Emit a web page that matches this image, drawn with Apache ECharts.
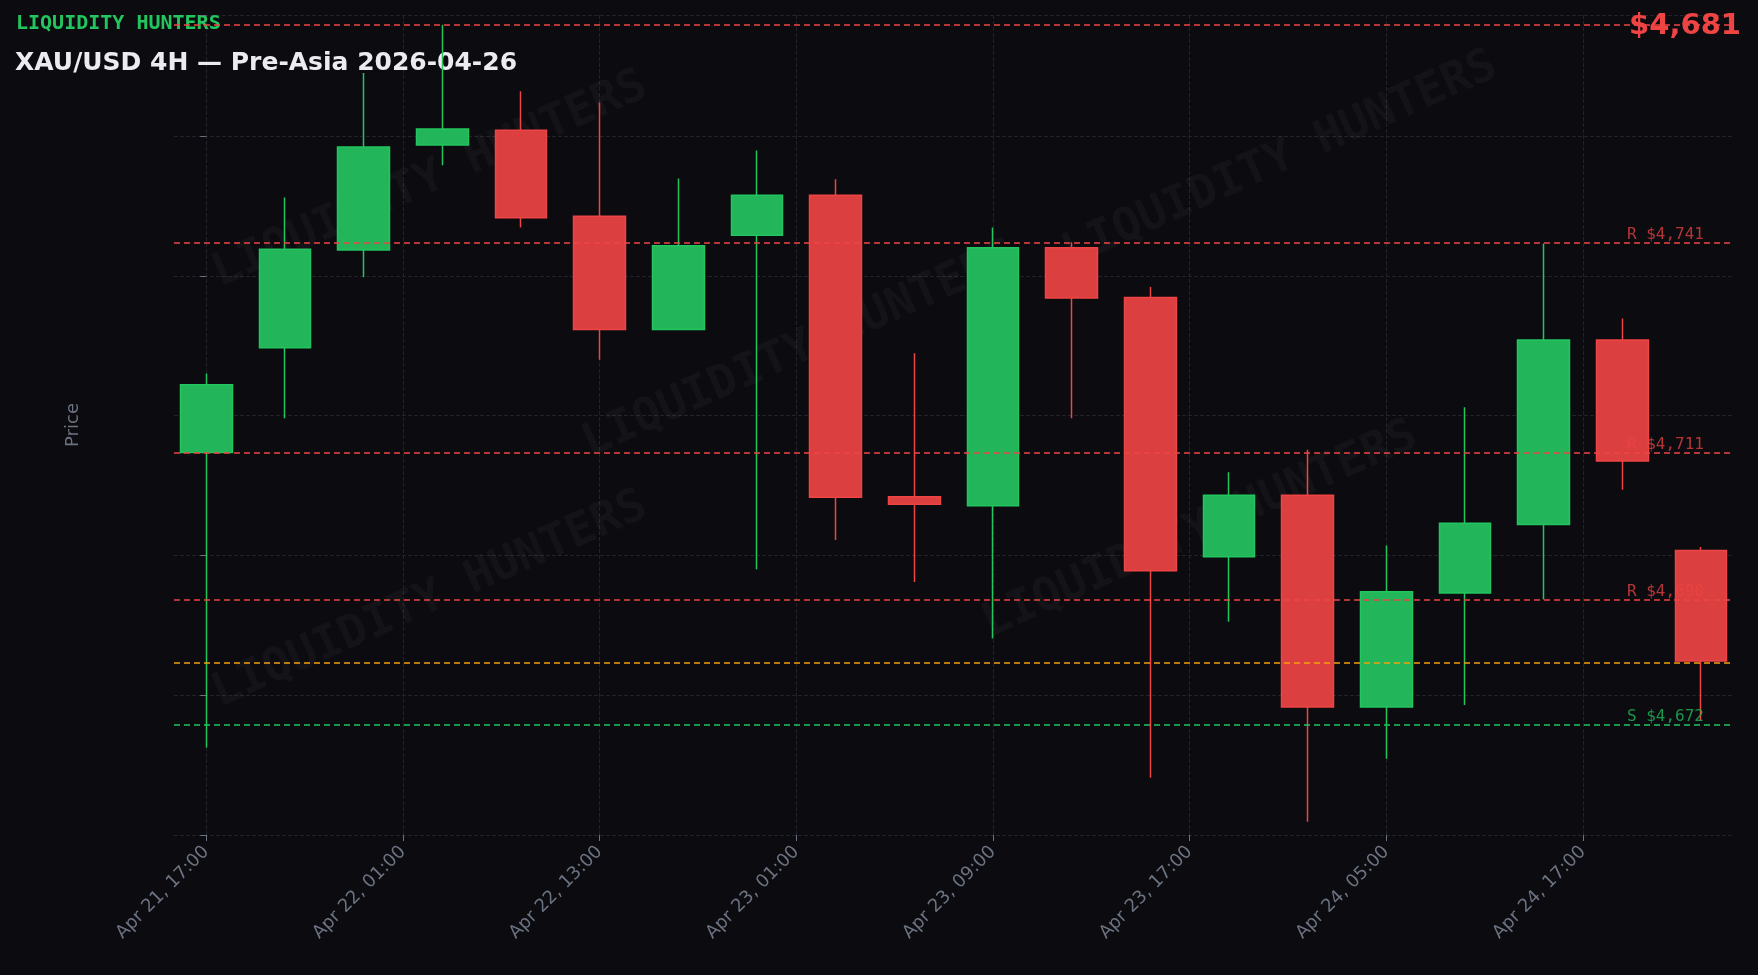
<!DOCTYPE html>
<html><head><meta charset="utf-8">
<script src="https://cdn.jsdelivr.net/npm/echarts@6/dist/echarts.min.js"></script>
<style>html,body{margin:0;padding:0;background:#0b0b10}#c{width:1758px;height:975px}</style>
</head><body><div id="c"></div>
<script>
const xLabels = ['Apr 21, 17:00','Apr 22, 01:00','Apr 22, 13:00','Apr 23, 01:00','Apr 23, 09:00','Apr 23, 17:00','Apr 24, 05:00','Apr 24, 17:00'];
const xLabelPos = [0,2.5,5,7.5,10,12.5,15,17.5];
const opens  = [4711,4726,4740,4755,4757.1,4744.8,4728.6,4742.1,4747.8,4704.7,4703.4,4740.3,4733.2,4696.1,4704.9,4674.6,4690.9,4700.7,4727.1,4697.0];
const closes = [4720.7,4740.1,4754.7,4757.3,4744.6,4728.6,4740.6,4747.8,4704.6,4703.6,4740.3,4733.1,4694.1,4704.9,4674.6,4691.1,4700.9,4727.1,4709.8,4681.2];
const lows   = [4668.8,4715.9,4736.1,4752.1,4743.2,4724.3,4728.6,4694.3,4698.5,4692.5,4684.4,4715.9,4664.5,4686.8,4658.2,4667.2,4674.9,4690,4705.7,4672.7];
const highs  = [4722.3,4747.5,4765.3,4772.2,4762.7,4761.1,4750.2,4754.2,4750.1,4725.2,4743.2,4741.1,4734.7,4708.2,4711.4,4697.7,4717.5,4740.9,4730.2,4697.5];
const levels = [
  {v:4772.2, label:'', color:'#ef4444'},
  {v:4741, label:'R $4,741', color:'#ef4444'},
  {v:4711, label:'R $4,711', color:'#ef4444'},
  {v:4690, label:'R $4,690', color:'#ef4444'},
  {v:4681, label:'', color:'#f59e0b'},
  {v:4672, label:'S $4,672', color:'#22c55e'}
];
const lastPrice = '$4,681';

const data = opens.map((o,i)=>[i,o,closes[i],lows[i],highs[i]]);
const chart = echarts.init(document.getElementById('c'));
const font = 'DejaVu Sans';
chart.setOption({
  backgroundColor:'#0b0b10',
  animation:false,
  grid:{left:174,right:24,top:15,bottom:140},
  xAxis:{type:'value',min:-0.41,max:19.42,
    axisLine:{show:false},
    axisTick:{show:true,customValues:xLabelPos,length:6,lineStyle:{color:'#6b7280'}},
    axisLabel:{customValues:xLabelPos,rotate:45,color:'#6b7280',fontSize:18,fontFamily:font,margin:14,
      formatter:v=>{const k=xLabelPos.indexOf(v);return k>=0?xLabels[k]:'';}},
    splitLine:{show:true,lineStyle:{color:'#23232b',type:'dashed'}}
  },
  yAxis:{type:'value',min:4656.3,max:4773.6,interval:20,
    name:'Price',nameLocation:'middle',nameGap:92,nameTextStyle:{color:'#6b7280',fontSize:18,fontFamily:font},
    axisLine:{show:false},axisTick:{show:true,length:6,lineStyle:{color:'#6b7280'}},
    axisLabel:{color:'#6b7280',fontSize:18,fontFamily:font,margin:12,
      formatter:v=>(Math.abs(v%20)<0.01||Math.abs(v%20-20)<0.01)?String(Math.round(v)):''},
    splitLine:{show:true,lineStyle:{color:'#23232b',type:'dashed'}}
  },
  series:[{type:'candlestick',data:data,encode:{x:0,y:[1,2,3,4]},barWidth:52,
    itemStyle:{color:'#22b55a',color0:'#dc3f3f',borderColor:'#22c55e',borderColor0:'#ef4444',borderWidth:1.5},
    markLine:{symbol:'none',silent:true,
      data:levels.map(l=>({yAxis:l.v,lineStyle:{color:l.color,type:[6,4],width:1.5},
        label:{show:!!l.label,formatter:l.label,position:'insideEndTop',distance:[30,0],color:l.color,opacity:0.75,fontSize:16,fontFamily:'DejaVu Sans Mono'}}))}
  }]
});
const wm=[[430,180],[800,350],[430,600],[1200,530],[1280,160]];
const g=[];
wm.forEach(p=>g.push({type:'text',x:p[0],y:p[1],rotation:0.42,style:{text:'LIQUIDITY HUNTERS',fill:'rgba(255,255,255,0.035)',font:'bold 46px "DejaVu Sans Mono"',align:'center',verticalAlign:'middle'}}));
g.push({type:'text',left:16,top:14,style:{text:'LIQUIDITY HUNTERS',fill:'#22c55e',font:'bold 20px "DejaVu Sans Mono"'}});
g.push({type:'text',left:15,top:51,style:{text:'XAU/USD 4H — Pre-Asia 2026-04-26',fill:'#ececf0',font:'bold 25px "DejaVu Sans"'}});
g.push({type:'text',right:17,top:12,style:{text:lastPrice,fill:'#ef4444',font:'bold 29px "DejaVu Sans"'}});
chart.setOption({graphic:g});
</script></body></html>
